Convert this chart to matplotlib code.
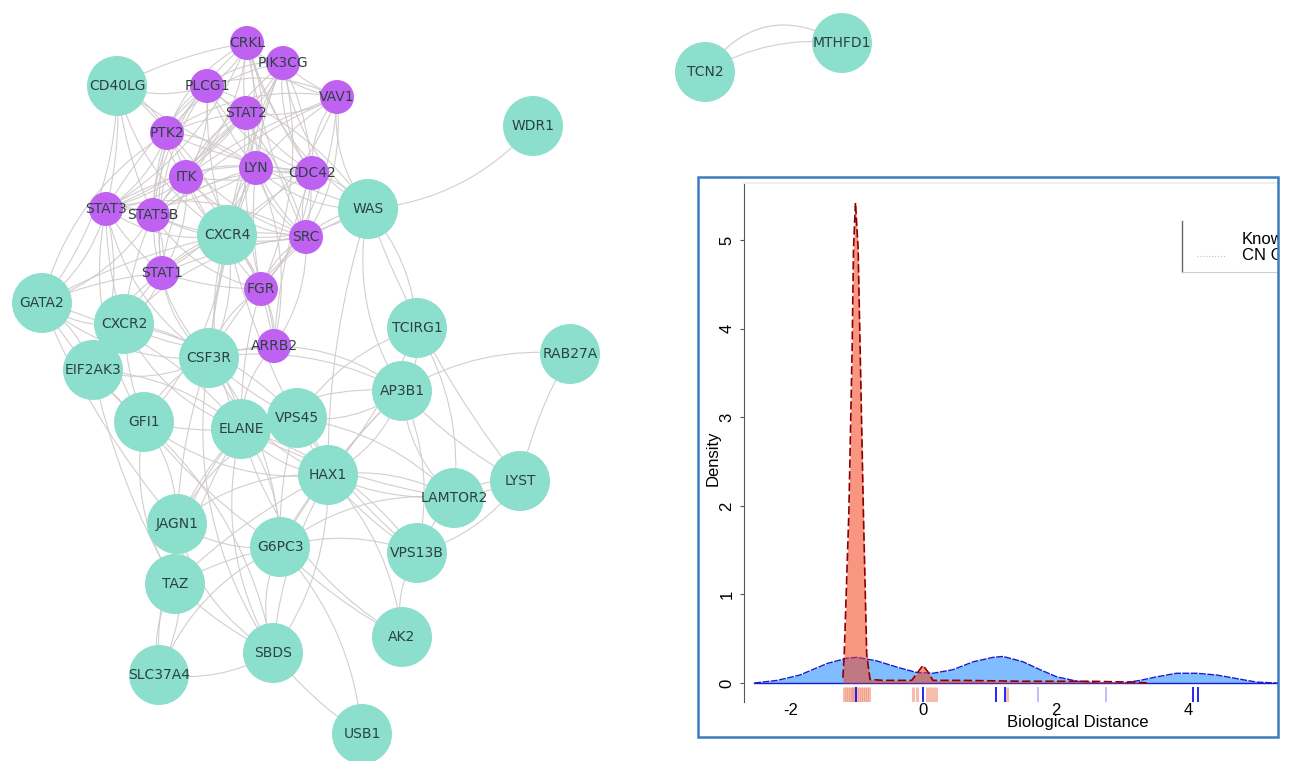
import matplotlib.pyplot as plt
from matplotlib.patches import Circle, FancyArrowPatch, Rectangle

W, H = 1289, 761

# network nodes (pixel positions)
genes = ['CD40LG', 'WAS', 'CXCR4', 'WDR1', 'GATA2', 'CXCR2', 'EIF2AK3', 'CSF3R',
         'GFI1', 'ELANE', 'VPS45', 'HAX1', 'TCIRG1', 'AP3B1', 'RAB27A', 'LYST',
         'LAMTOR2', 'JAGN1', 'G6PC3', 'VPS13B', 'TAZ', 'AK2', 'SBDS', 'SLC37A4',
         'USB1', 'TCN2', 'MTHFD1',
         'CRKL', 'PIK3CG', 'VAV1', 'PLCG1', 'STAT2', 'PTK2', 'ITK', 'LYN', 'CDC42',
         'STAT3', 'STAT5B', 'SRC', 'STAT1', 'FGR', 'ARRB2']
gene_x = [117, 368, 227, 533, 42, 124, 93, 209,
          144, 241, 297, 328, 417, 402, 570, 520,
          454, 177, 280, 417, 175, 402, 273, 159,
          362, 705, 842,
          247, 283, 337, 207, 246, 167, 186, 256, 312,
          106, 153, 306, 162, 261, 274]
gene_y = [86, 209, 235, 126, 303, 324, 370, 358,
          422, 429, 418, 475, 328, 391, 354, 481,
          498, 524, 547, 553, 584, 637, 653, 675,
          734, 72, 43,
          43, 63, 97, 86, 113, 133, 177, 168, 173,
          209, 215, 237, 273, 289, 346]
purple = ['CRKL', 'PIK3CG', 'VAV1', 'PLCG1', 'STAT2', 'PTK2', 'ITK', 'LYN', 'CDC42',
          'STAT3', 'STAT5B', 'SRC', 'STAT1', 'FGR', 'ARRB2']

links = {
    'CRKL': ['PIK3CG', 'PLCG1', 'STAT2', 'VAV1', 'LYN', 'SRC', 'PTK2', 'ITK', 'CDC42',
             'STAT5B', 'STAT3', 'CD40LG', 'WAS', 'CXCR4'],
    'PIK3CG': ['VAV1', 'PLCG1', 'STAT2', 'LYN', 'CDC42', 'SRC', 'ITK', 'PTK2', 'STAT3',
               'CXCR4', 'WAS', 'FGR', 'CSF3R'],
    'VAV1': ['PLCG1', 'STAT2', 'LYN', 'CDC42', 'SRC', 'ITK', 'WAS', 'CXCR4', 'STAT5B',
             'PTK2', 'FGR'],
    'PLCG1': ['STAT2', 'PTK2', 'ITK', 'LYN', 'CDC42', 'SRC', 'STAT3', 'STAT5B', 'CD40LG',
              'CXCR4', 'STAT1', 'WAS'],
    'STAT2': ['PTK2', 'ITK', 'LYN', 'CDC42', 'SRC', 'STAT3', 'STAT5B', 'STAT1', 'CXCR4', 'FGR'],
    'PTK2': ['ITK', 'LYN', 'CDC42', 'SRC', 'STAT3', 'STAT5B', 'CD40LG', 'CXCR4', 'STAT1', 'GATA2'],
    'ITK': ['LYN', 'CDC42', 'SRC', 'STAT3', 'STAT5B', 'CXCR4', 'STAT1', 'FGR', 'CD40LG', 'ARRB2'],
    'LYN': ['CDC42', 'SRC', 'STAT3', 'STAT5B', 'CXCR4', 'STAT1', 'FGR', 'WAS', 'ARRB2', 'CSF3R'],
    'CDC42': ['SRC', 'WAS', 'CXCR4', 'STAT5B', 'FGR', 'ARRB2', 'STAT3'],
    'SRC': ['WAS', 'CXCR4', 'STAT3', 'STAT5B', 'STAT1', 'FGR', 'ARRB2', 'CSF3R', 'CXCR2'],
    'STAT3': ['STAT5B', 'STAT1', 'CXCR4', 'GATA2', 'CXCR2', 'CSF3R', 'EIF2AK3', 'CD40LG', 'GFI1'],
    'STAT5B': ['STAT1', 'CXCR4', 'CSF3R', 'GATA2', 'CXCR2', 'FGR'],
    'STAT1': ['CXCR4', 'FGR', 'CSF3R', 'CXCR2', 'GATA2', 'EIF2AK3'],
    'FGR': ['ARRB2', 'CXCR4', 'CSF3R', 'WAS', 'ELANE'],
    'ARRB2': ['CXCR4', 'CXCR2', 'CSF3R', 'ELANE', 'AP3B1'],
    'CD40LG': ['WAS', 'CXCR4', 'GATA2', 'STAT5B'],
    'WAS': ['WDR1', 'CXCR4', 'HAX1', 'AP3B1', 'TCIRG1', 'LYST'],
    'CXCR4': ['CXCR2', 'CSF3R', 'GATA2', 'ELANE', 'GFI1', 'HAX1'],
    'GATA2': ['CXCR2', 'EIF2AK3', 'GFI1', 'CSF3R', 'ELANE', 'JAGN1'],
    'CXCR2': ['EIF2AK3', 'CSF3R', 'GFI1', 'ELANE', 'VPS45'],
    'EIF2AK3': ['GFI1', 'CSF3R', 'ELANE', 'TAZ'],
    'CSF3R': ['GFI1', 'ELANE', 'VPS45', 'HAX1', 'G6PC3', 'JAGN1', 'SBDS', 'AP3B1'],
    'GFI1': ['ELANE', 'HAX1', 'JAGN1', 'G6PC3', 'TAZ', 'SBDS'],
    'ELANE': ['VPS45', 'HAX1', 'G6PC3', 'JAGN1', 'SBDS', 'AP3B1', 'TAZ', 'SLC37A4', 'VPS13B',
              'LAMTOR2', 'AK2'],
    'VPS45': ['HAX1', 'G6PC3', 'AP3B1', 'LAMTOR2', 'VPS13B', 'JAGN1', 'TCIRG1'],
    'HAX1': ['G6PC3', 'AP3B1', 'LAMTOR2', 'VPS13B', 'JAGN1', 'SBDS', 'TAZ', 'LYST', 'AK2', 'TCIRG1'],
    'AP3B1': ['TCIRG1', 'RAB27A', 'LYST', 'LAMTOR2', 'VPS13B', 'G6PC3', 'SBDS'],
    'TCIRG1': ['LAMTOR2'],
    'RAB27A': ['LYST'],
    'LYST': ['LAMTOR2', 'VPS13B'],
    'LAMTOR2': ['VPS13B', 'G6PC3'],
    'G6PC3': ['JAGN1', 'TAZ', 'SBDS', 'VPS13B', 'AK2', 'SLC37A4', 'USB1'],
    'JAGN1': ['TAZ', 'SBDS', 'SLC37A4'],
    'TAZ': ['SBDS', 'SLC37A4'],
    'SBDS': ['SLC37A4', 'USB1'],
    'VPS13B': ['AK2'],
    'TCN2': ['MTHFD1'],
}

# density inset: curves and rug positions
known_x = [-2.55, -2.2, -1.86, -1.45, -1.15, -1.0, -0.7, -0.35, -0.1, 0.15, 0.45, 0.76,
           1.06, 1.21, 1.51, 1.77, 2.02, 2.33, 2.67, 3.02, 3.28, 3.53, 3.83, 4.14,
           4.44, 4.74, 5.04, 5.36]
known_y = [0.0, 0.03, 0.09, 0.22, 0.28, 0.29, 0.25, 0.17, 0.12, 0.11, 0.15, 0.24,
           0.29, 0.30, 0.24, 0.15, 0.07, 0.02, 0.0, 0.0, 0.03, 0.07, 0.11, 0.11,
           0.09, 0.05, 0.01, 0.0]
cn_x = [-1.21, -1.19, -1.12, -1.07, -1.05, -1.02, -0.98, -0.95, -0.9, -0.85, -0.80,
        -0.6, -0.17, -0.08, 0.0, 0.08, 0.15, 0.6, 1.5, 2.5, 3.2, 3.4]
cn_y = [0.06, 0.32, 1.92, 3.79, 4.9, 5.42, 4.9, 3.79, 1.92, 0.32, 0.04,
        0.03, 0.03, 0.12, 0.2, 0.12, 0.03, 0.03, 0.02, 0.02, 0.01, 0.0]
known_rug = [-1.01, 0.0, 1.10, 1.24, 4.08, 4.15]
known_rug_faint = [1.74, 2.76]
cn_rug = [-1.2, -1.17, -1.14, -1.11, -1.08, -1.05, -1.02, -0.99, -0.96, -0.93,
          -0.9, -0.87, -0.84, -0.81, -0.15, -0.09, 0.06, 0.11, 0.15, 0.2, 1.27]

teal = '#8ddfcd'
violet = '#c062f1'
label_col = '#2b4242'

fig = plt.figure(figsize=(W / 100, H / 100), dpi=100)
ax = fig.add_axes([0, 0, 1, 1])
ax.set_xlim(0, W)
ax.set_ylim(H, 0)
ax.axis('off')

pos = {g: (x, y) for g, x, y in zip(genes, gene_x, gene_y)}

k = 0
for a, targets in links.items():
    for b in targets:
        rad = 0.2 if k % 3 == 0 else (-0.17 if k % 3 == 1 else 0.08)
        e = FancyArrowPatch(pos[a], pos[b], arrowstyle='-', shrinkA=0, shrinkB=0,
                            connectionstyle=f'arc3,rad={rad}', color='#cfc9c9',
                            lw=0.8, alpha=0.9, zorder=1)
        ax.add_patch(e)
        k += 1
# second, curved TCN2-MTHFD1 link
ax.add_patch(FancyArrowPatch(pos['TCN2'], pos['MTHFD1'], arrowstyle='-', shrinkA=0,
                             shrinkB=0, connectionstyle='arc3,rad=-0.45', color='#d8d4d4',
                             lw=1.0, zorder=1))

for g in genes:
    x, y = pos[g]
    if g in purple:
        ax.add_patch(Circle((x, y), 17, fc=violet, ec='none', zorder=2))
    else:
        ax.add_patch(Circle((x, y), 30, fc=teal, ec='none', zorder=2))
    ax.text(x, y, g, ha='center', va='center', fontsize=10, color=label_col, zorder=3)

# density inset
ax_in = fig.add_axes([744 / W, 1 - 702 / H, 534 / W, 519 / H])
ax_in.fill_between(known_x, 0, known_y, color='#80bdff', lw=0, zorder=1)
ax_in.plot(known_x, known_y, color='#1a1ad0', lw=1.0, ls=(0, (5, 1)), zorder=2)
ax_in.plot([known_x[0], known_x[-1]], [0, 0], color='#1a1ad0', lw=1.0, zorder=2)
ax_in.fill_between(cn_x, 0, cn_y, color='#f5401b', alpha=0.55, lw=0, zorder=3)
ax_in.plot(cn_x, cn_y, color='#8b0000', lw=1.2, ls=(0, (5, 2)), zorder=4)

ax_in.vlines(cn_rug, -0.214, -0.045, colors='#f08a70', lw=2.2, alpha=0.55, zorder=2)
ax_in.vlines(known_rug, -0.214, -0.045, colors='#0000ff', lw=1.2, zorder=3)
ax_in.vlines(known_rug_faint, -0.214, -0.045, colors='#0000ff', lw=1.2, alpha=0.3, zorder=3)

ax_in.set_xticks([-2, 0, 2, 4])
ax_in.set_xticklabels(['-2', '0', '2', '4'])
ax_in.set_yticks([0, 1, 2, 3, 4, 5])
ax_in.tick_params(axis='x', length=0, pad=1, labelsize=12)
ax_in.tick_params(axis='y', length=3, pad=4, labelsize=12, labelrotation=90,
                  color='#555555')
for lab in ax_in.get_yticklabels():
    lab.set_va('center')
for lab in ax_in.get_xticklabels() + ax_in.get_yticklabels():
    lab.set_fontfamily('Liberation Sans')
ax_in.spines['right'].set_visible(False)
ax_in.spines['bottom'].set_visible(False)
ax_in.spines['left'].set_color('#555555')
ax_in.spines['left'].set_linewidth(0.8)
ax_in.spines['top'].set_color('#eeeeee')
ax_in.spines['top'].set_linewidth(1.5)

ax_in.text(0.625, -0.04, 'Biological Distance', transform=ax_in.transAxes,
           ha='center', va='center', fontsize=12, family='Liberation Sans', clip_on=False)
ax_in.text(-0.058, 0.47, 'Density', transform=ax_in.transAxes, rotation=90,
           ha='center', va='center', fontsize=12, family='Liberation Sans', clip_on=False)

# legend (cut by the frame on the right, as in the reference)
ax_in.plot([1182, 1182], [221, 272], color='#666666', lw=1.0, transform=ax.transData)
ax_in.plot([1182, 1290], [272, 272], color='#cccccc', lw=0.8, transform=ax.transData)
ax_in.plot([1197, 1225], [256, 256], color='#b8bce8', lw=0.8, ls=':', transform=ax.transData)
ax_in.text(1242, 239, 'Known', transform=ax.transData, va='center', ha='left',
           fontsize=12, family='Liberation Sans', clip_on=True)
ax_in.text(1242, 256, 'CN Genes', transform=ax.transData, va='center', ha='left',
           fontsize=12, family='Liberation Sans', clip_on=True)
ax_in.set_xlim(-2.704, 5.363)
ax_in.set_ylim(-0.214, 5.643)

fig.add_artist(Rectangle((698, 177), 580, 560, transform=ax.transData, fill=False,
                         ec='#3b7bc0', lw=1.8, zorder=10))

fig.savefig('out.png', dpi=100)
